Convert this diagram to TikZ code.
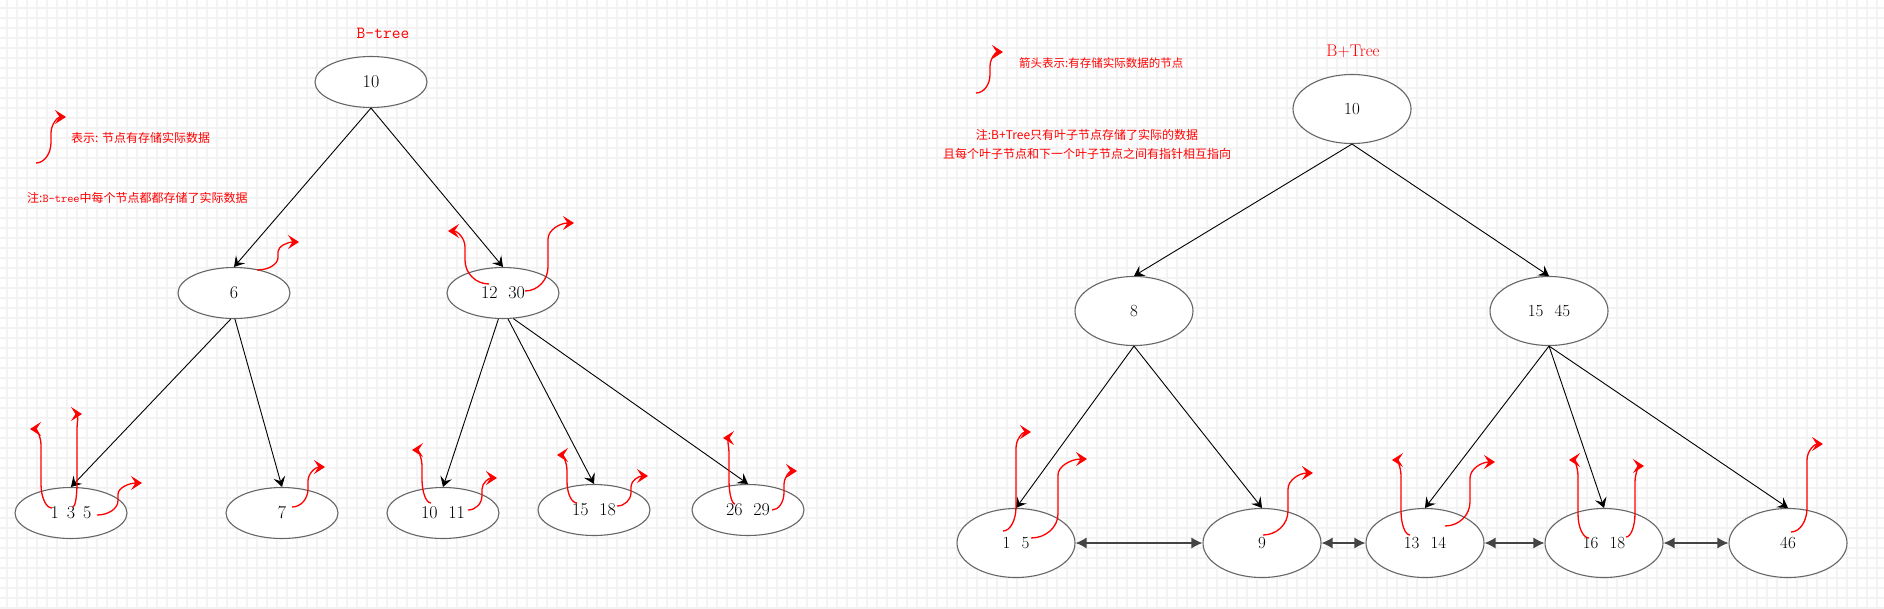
\documentclass[tikz,border=0pt]{standalone}
\usepackage{fontspec}
\usetikzlibrary{shapes.geometric,arrows.meta}
\newfontfamily\cjk{Noto Sans CJK SC}
\definecolor{gridc}{HTML}{F3F3F3}
\definecolor{nodeline}{HTML}{666666}
\definecolor{linkc}{HTML}{444444}
% #1 name, #2 sx, #3 sy, #4 vx, #5 tx, #6 ty
\newcommand\dataarrow[6]{%
  \pgfmathsetmacro\rb{min(24,(#3-#6)*0.45)}%
  \pgfmathsetmacro\rt{min(16,(#3-#6)*0.35)}%
  \pgfmathsetmacro\ca{#2+0.55*(#4-#2)}%
  \pgfmathsetmacro\cb{#3-0.45*\rb}%
  \pgfmathsetmacro\cc{#6+0.45*\rt}%
  \pgfmathsetmacro\cd{#4+0.45*(#5-#4)}%
  \coordinate (#1s) at (#2,#3);
  \coordinate (#1t) at (#5,#6);
  \draw[dataarr] (#1s) .. controls (\ca,#3) and (#4,\cb) .. (#4,#3-\rb) -- (#4,#6+\rt) .. controls (#4,\cc) and (\cd,#6) .. (#1t);
}
\newcommand\gap[1]{\hspace{#1em}}
\begin{document}
\begin{tikzpicture}[x=1pt,y=-1pt,
  gridline/.style={draw=gridc, line width=1.2pt},
  bnode/.style={ellipse, draw=nodeline, line width=1.1pt, fill=white, inner sep=0pt},
  lnode/.style={bnode, minimum width=112pt, minimum height=51pt, font=\fontsize{18}{20}\selectfont},
  rnode/.style={bnode, minimum width=118pt, minimum height=69pt, font=\fontsize{17}{20}\selectfont},
  tree/.style={draw=black, line width=0.9pt, -{Stealth[length=10pt,width=12pt,inset=4pt]}},
  link/.style={draw=linkc, line width=1.3pt, {Latex[length=11pt,width=11pt]}-{Latex[length=11pt,width=11pt]}},
  dataarr/.style={draw=red, line width=1.3pt, -{Stealth[length=11pt,width=14pt,inset=4.5pt]}},
  note/.style={text=red, inner sep=0pt, anchor=west},
  title/.style={text=red, inner sep=0pt}
]
\useasboundingbox (0,0) rectangle (1884,608);
\fill[white] (0,0) rectangle (1884,608);
\foreach \x in {7,17,...,1884} \draw[gridline] (\x,0) -- (\x,608);
\foreach \y in {8,18,...,608} \draw[gridline] (0,\y) -- (1884,\y);

% ---------------- B-tree ----------------
\node[title, font=\ttfamily\fontsize{17}{19}\selectfont] (tA) at (383,33) {B-tree};
\node[note, font=\cjk\fontsize{12}{14}\selectfont] (nA1) at (71,138) {表示: 节点有存储实际数据};
\node[note, font=\cjk\fontsize{12}{14}\selectfont] (nA2) at (27,198) {注:{\ttfamily B-tree}中每个节点都都存储了实际数据};

\node[lnode] (L0) at (371,82) {10};
\node[lnode] (L6) at (234,293) {6};
\node[lnode] (L12) at (503,293) {12\gap{0.6}30};
\node[lnode] (La) at (71,513) {1\gap{0.45}3\gap{0.45}5};
\node[lnode] (Lb) at (282,513) {7};
\node[lnode] (Lc) at (443,513) {10\gap{0.6}11};
\node[lnode] (Ld) at (594,510) {15\gap{0.6}18};
\node[lnode] (Le) at (748,510) {26\gap{0.6}29};

\draw[tree] (L0.south) -- (L6.north);
\draw[tree] (L0.south) -- (L12.north);
\draw[tree] (L6.-97) -- (La.north);
\draw[tree] (L6.-88) -- (Lb.north);
\draw[tree] (L12.-100) -- (Lc.north);
\draw[tree] (L12.-79) -- (Ld.north);
\draw[tree] (L12.-68) -- (Le.north);

\dataarrow{legA}{36}{163}{51}{66}{117}
\dataarrow{l6}{257}{270}{278}{299}{242}
\dataarrow{l12a}{489}{284}{465}{448}{231}
\dataarrow{l12b}{525}{291}{548}{574}{223}
\dataarrow{laa}{52}{508}{41}{30}{429}
\dataarrow{lab}{73}{507}{77}{82}{414}
\dataarrow{lac}{97}{515}{118}{142}{483}
\dataarrow{lb}{292}{507}{308}{325}{467}
\dataarrow{lca}{431}{503}{422}{412}{450}
\dataarrow{lcb}{468}{510}{482}{497}{478}
\dataarrow{lda}{577}{503}{567}{557}{455}
\dataarrow{ldb}{617}{506}{631}{648}{476}
\dataarrow{lea}{735}{504}{729}{723}{438}
\dataarrow{leb}{772}{510}{784}{797}{471}

% ---------------- B+Tree ----------------
\node[title, font=\fontsize{17}{19}\selectfont] (tB) at (1353,51) {B+Tree};
\node[note, font=\cjk\fontsize{11.5}{13}\selectfont] (nB1) at (1019,63) {箭头表示:有存储实际数据的节点};
\node[text=red, inner sep=0pt, align=center, font=\cjk\fontsize{12}{19}\selectfont] (nB2) at (1087,144)
  {注:B+Tree只有叶子节点存储了实际的数据\\且每个叶子节点和下一个叶子节点之间有指针相互指向};

\node[rnode] (R0) at (1352,109) {10};
\node[rnode] (R8) at (1134,311) {8};
\node[rnode] (R15) at (1549,311) {15\gap{0.65}45};
\node[rnode] (Ra) at (1016,543) {1\gap{0.65}5};
\node[rnode] (Rb) at (1262,543) {9};
\node[rnode] (Rc) at (1425,543) {13\gap{0.65}14};
\node[rnode] (Rd) at (1604,543) {16\gap{0.65}18};
\node[rnode] (Re) at (1788,543) {46};

\draw[tree] (R0.south) -- (R8.north);
\draw[tree] (R0.south) -- (R15.north);
\draw[tree] (R8.south) -- (Ra.north);
\draw[tree] (R8.south) -- (Rb.north);
\draw[tree] (R15.south) -- (Rc.north);
\draw[tree] (R15.south) -- (Rd.north);
\draw[tree] (R15.south) -- (Re.north);

\draw[link] (Ra.east) -- (Rb.west);
\draw[link] (Rb.east) -- (Rc.west);
\draw[link] (Rc.east) -- (Rd.west);
\draw[link] (Rd.east) -- (Re.west);

\dataarrow{legB}{976}{93}{990}{1003}{52}
\dataarrow{raa}{1003}{531}{1016}{1031}{432}
\dataarrow{rab}{1031}{538}{1058}{1087}{459}
\dataarrow{rb}{1263}{535}{1288}{1313}{473}
\dataarrow{rca}{1410}{535}{1401}{1392}{460}
\dataarrow{rcb}{1445}{526}{1470}{1495}{462}
\dataarrow{rda}{1589}{538}{1578}{1569}{460}
\dataarrow{rdb}{1626}{537}{1635}{1644}{466}
\dataarrow{re}{1791}{532}{1807}{1823}{444}
\end{tikzpicture}
\end{document}
